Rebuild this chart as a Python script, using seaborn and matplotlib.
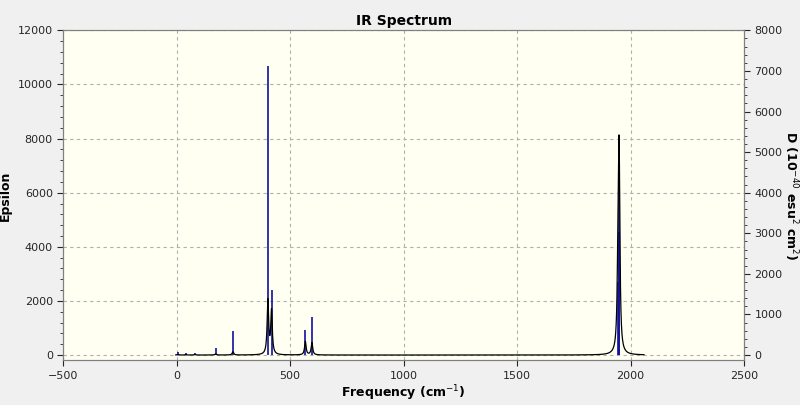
import numpy as np
import matplotlib
matplotlib.use("Agg")
import matplotlib.pyplot as plt
import seaborn as sns
from matplotlib.ticker import MultipleLocator

sns.set_style("white")
plt.rcParams['font.family'] = ['DejaVu Sans']
plt.rcParams['text.color'] = 'black'
plt.rcParams['axes.labelcolor'] = 'black'

# stick spectrum (frequency cm-1, epsilon-scale heights)
stick_freq = [4, 40, 80, 172, 248, 402, 418, 567, 596, 1944, 1947, 1950]
stick_eps = [100, 80, 90, 260, 890, 10700, 2400, 925, 1400, 2700, 6200, 4550]
# broadened peaks (frequency, peak epsilon)
peak_freq = [4, 40, 80, 172, 248, 402, 418, 567, 596, 1944, 1947, 1950]
peak_eps = [20, 15, 20, 40, 120, 2000, 1600, 500, 450, 1200, 3000, 5600]
hwhm = 4.0

x = np.linspace(-5, 2060, 6000)
y = np.zeros_like(x)
for f, a in zip(peak_freq, peak_eps):
    y += a / (1 + ((x - f) / hwhm) ** 2)

fig = plt.figure(figsize=(8, 4.05), dpi=100)
fig.patch.set_facecolor("#F0F0F0")
ax = fig.add_axes([0.079, 0.11, 0.851, 0.815])
ax.set_facecolor("#FFFFF2")
ax.vlines(stick_freq, 0, stick_eps, color="#1010A0", lw=1.2, zorder=3)
sns.lineplot(x=x, y=y, ax=ax, color="black", lw=0.9, zorder=4)
ax.set_xlim(-500, 2500)
ax.set_ylim(-200, 12000)
ax.xaxis.set_major_locator(MultipleLocator(500))
ax.xaxis.set_minor_locator(MultipleLocator(100))
ax.yaxis.set_major_locator(MultipleLocator(2000))
ax.yaxis.set_minor_locator(MultipleLocator(400))
ax.grid(True, which="major", ls=(0, (3, 3)), color="#B0B0B0", lw=0.8)
ax.tick_params(axis="both", which="both", direction="out", labelsize=8, length=4)
ax.tick_params(which="minor", length=2)
ax.tick_params(bottom=True, left=True)
ax.set_xlabel("Frequency (cm$^{-1}$)", fontsize=9, fontweight="bold", labelpad=2)
ax.set_ylabel("Epsilon", fontsize=9, fontweight="bold")
ax.set_title("IR Spectrum", fontsize=10, fontweight="bold", pad=4)

ax2 = ax.twinx()
ax2.set_ylim(-200 * 2 / 3, 8000)
ax2.yaxis.set_major_locator(MultipleLocator(1000))
ax2.yaxis.set_minor_locator(MultipleLocator(200))
ax2.tick_params(axis="y", which="both", direction="out", labelsize=8, length=4, right=True)
ax2.tick_params(which="minor", length=2)
ax2.set_ylabel("D (10$^{-40}$ esu$^{2}$ cm$^{2}$)", fontsize=9, fontweight="bold", rotation=-90, labelpad=12)
for a in (ax, ax2):
    for s in a.spines.values():
        s.set_color("#808080")
fig.savefig("out.png", dpi=100, facecolor=fig.get_facecolor())
